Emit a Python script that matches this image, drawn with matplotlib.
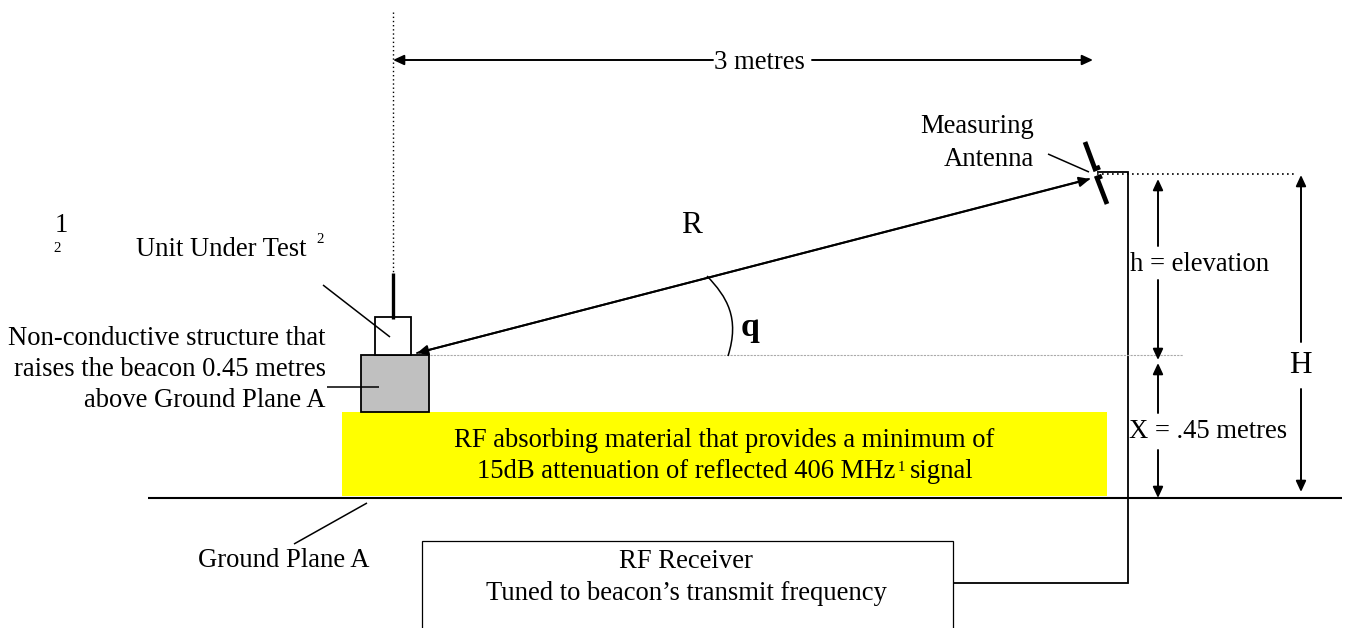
import matplotlib
matplotlib.use("Agg")
import matplotlib.pyplot as plt
from matplotlib.patches import Rectangle, PathPatch
from matplotlib.path import Path

plt.rcParams['font.family'] = ['Liberation Serif', 'DejaVu Serif']

W, H = 1348, 628
FS = 19.2
SMALL = 10.7
BIG = 22.5

# diagram geometry, in pixels of the drawing
ground_line = [(148, 498), (1342, 498)]
centre_line = [(393, 12), (393, 273)]
horizon_line = [(430, 355), (1183, 355)]
top_dotted = [(1097, 174), (1294, 174)]
cable = [(1097, 172), (1128, 172), (1128, 583), (953, 583)]
whip = [(393, 273), (393, 319)]
antenna_upper = [(1085, 142), (1095, 169), (1100, 167)]
antenna_lower = [(1107, 204), (1097, 178), (1102, 176)]
angle_curve = [(707, 276), (727, 297), (740, 318), (728, 356)]

beacon_box = (375, 317, 36, 38)
support_box = (361, 355, 68, 57)
absorber_box = (342, 412, 765, 84)
receiver_box = (422, 541, 531, 100)

leaders = [
    [(323, 285), (390, 337)],
    [(327, 387), (379, 387)],
    [(294, 544), (367, 503)],
    [(1048, 154), (1089, 172)],
]

arrows = [
    [(713, 60), (393, 60)],
    [(812, 60), (1093, 60)],
    [(1089, 179), (417, 353)],
    [(417, 353), (1090, 179)],
    [(1158, 246), (1158, 179)],
    [(1158, 280), (1158, 360)],
    [(1158, 413), (1158, 363)],
    [(1158, 450), (1158, 498)],
    [(1301, 342), (1301, 175)],
    [(1301, 389), (1301, 492)],
]

labels = [
    (714, 69, "3 metres", "left"),
    (1034, 133, "Measuring", "right"),
    (1034, 166, "Antenna", "right"),
    (136, 256, "Unit Under Test", "left"),
    (326, 345, "Non-conductive structure that", "right"),
    (326, 376, "raises the beacon 0.45 metres", "right"),
    (326, 407, "above Ground Plane A", "right"),
    (198, 567, "Ground Plane A", "left"),
    (1130, 271, "h = elevation", "left"),
    (1129, 438, "X = .45 metres", "left"),
    (686, 568, "RF Receiver", "center"),
    (686.5, 600, "Tuned to beacon\u2019s transmit frequency", "center"),
    (724, 447, "RF absorbing material that provides a minimum of", "center"),
    (477, 478, "15dB attenuation of reflected 406 MHz", "left"),
    (910, 478, "signal", "left"),
    (55, 232, "1", "left"),
]
small_labels = [(316, 243, "2"), (898, 471, "1"), (53, 252, "2")]
big_labels = [(691, 233, "R"), (1300, 373, "H")]

fig = plt.figure(figsize=(W / 100, H / 100), dpi=100)
ax = fig.add_axes([0, 0, 1, 1])
ax.set_xlim(0, W)
ax.set_ylim(H, 0)
ax.axis('off')


def polyline(pts, **kw):
    ax.plot([p[0] for p in pts], [p[1] for p in pts], color='black',
            solid_capstyle='butt', solid_joinstyle='miter', **kw)


ax.add_patch(Rectangle(absorber_box[:2], *absorber_box[2:], fc='#ffff00', ec='none', zorder=1))
ax.add_patch(Rectangle(support_box[:2], *support_box[2:], fc='#c0c0c0', ec='black', lw=1.3, zorder=2))
ax.add_patch(Rectangle(beacon_box[:2], *beacon_box[2:], fc='white', ec='black', lw=1.3, zorder=2))
ax.add_patch(Rectangle(receiver_box[:2], *receiver_box[2:], fc='white', ec='black', lw=0.9, zorder=2))

polyline(ground_line, lw=1.5)
polyline(cable, lw=1.3)
polyline(whip, lw=2.4, zorder=3)
polyline(antenna_upper, lw=3.4, zorder=3)
polyline(antenna_lower, lw=3.4, zorder=3)
ax.plot(*zip(*centre_line), color='black', lw=1, ls=(0, (1, 2)))
ax.plot(*zip(*top_dotted), color='black', lw=1.2, ls=(0, (1, 2)))
ax.plot(*zip(*horizon_line), color='#aaaaaa', lw=0.8, ls=(0, (2, 1)))

for seg in leaders:
    polyline(seg, lw=1.1, zorder=3)

for start, end in arrows:
    ax.annotate("", xy=end, xytext=start, zorder=3,
                arrowprops=dict(arrowstyle='-|>,head_length=0.65,head_width=0.3',
                                color='black', lw=1.4, shrinkA=0, shrinkB=0))

# angle mark between the sight line and the horizontal
codes = [Path.MOVETO, Path.CURVE4, Path.CURVE4, Path.CURVE4]
ax.add_patch(PathPatch(Path(angle_curve, codes), fc='none', ec='black', lw=1.1, zorder=3))

for x, y, s, ha in labels:
    ax.text(x, y, s, ha=ha, va='baseline', fontsize=FS, color='black', zorder=4)
for x, y, s in small_labels:
    ax.text(x, y, s, ha='left', va='baseline', fontsize=SMALL, color='black', zorder=4)
for x, y, s in big_labels:
    ax.text(x, y, s, ha='center', va='baseline', fontsize=BIG, color='black', zorder=4)
ax.text(750, 336, "q", ha='center', va='baseline', fontsize=24.5, fontweight='bold', zorder=4)

fig.savefig("out.png", dpi=100, facecolor='white')
